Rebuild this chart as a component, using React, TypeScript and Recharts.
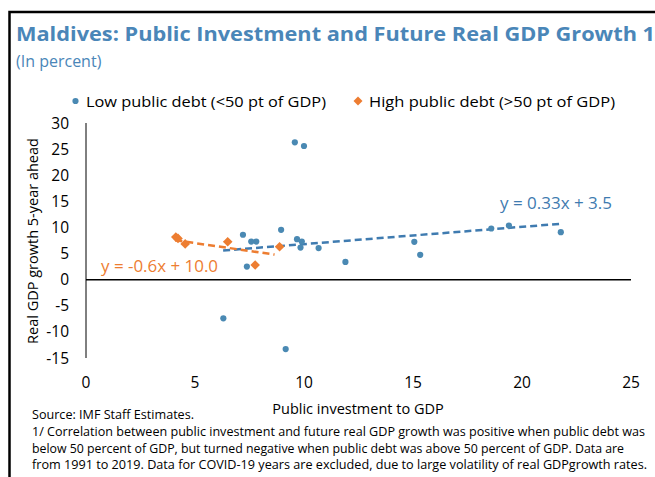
import React from "react";
import {
  ScatterChart,
  Scatter,
  XAxis,
  YAxis,
  ZAxis,
  ReferenceLine,
} from "recharts";

const lowDebtX = [9.58, 10.0, 7.2, 8.95, 7.58, 7.81, 9.68, 9.9, 9.84, 10.67, 11.9, 7.38, 6.3, 9.16, 15.06, 15.33, 18.59, 19.4, 21.78];
const lowDebtY = [26.3, 25.6, 8.6, 9.55, 7.3, 7.3, 7.75, 7.3, 6.15, 6.05, 3.4, 2.5, -7.4, -13.3, 7.25, 4.75, 9.8, 10.35, 9.1];

const highDebtX = [4.12, 4.22, 4.55, 6.5, 8.88, 7.76];
const highDebtY = [8.15, 7.9, 6.85, 7.25, 6.3, 2.8];

const lowTrendX = [6.29, 21.76];
const lowTrendY = [5.58, 10.7];
const highTrendX = [4.1, 8.65];
const highTrendY = [7.55, 4.8];

const xTicks = [0, 5, 10, 15, 20, 25];
const yTicks = [-15, -10, -5, 0, 5, 10, 15, 20, 25, 30];

const lowSeriesName = "Low public debt (<50 pt of GDP)";
const highSeriesName = "High public debt (>50 pt of GDP)";
const lowEquation = "y = 0.33x + 3.5";
const highEquation = "y = -0.6x + 10.0";

const titleText = "Maldives: Public Investment and Future Real GDP Growth 1/";
const subtitleText = "(In percent)";
const xLabel = "Public investment to GDP";
const yLabel = "Real GDP growth 5-year ahead";
const sourceText = "Source: IMF Staff Estimates.";
const noteLines = [
  "1/ Correlation between public investment and future real GDP growth was positive when public debt was",
  "below 50 percent of GDP, but turned negative when public debt was above 50 percent of GDP. Data are",
  "from 1991 to 2019. Data for COVID-19 years are excluded, due to large volatility of real GDPgrowth rates.",
];

const zip = (xs: number[], ys: number[]) => xs.map((x, i) => ({ x, y: ys[i] }));
const lowDebt = zip(lowDebtX, lowDebtY);
const highDebt = zip(highDebtX, highDebtY);
const lowTrend = zip(lowTrendX, lowTrendY);
const highTrend = zip(highTrendX, highTrendY);

const FONT = "'Open Sans', 'Noto Sans', sans-serif";
const BLUE_DOT = "#4A89B3";
const BLUE_LINE = "#3F7BB0";
const ORANGE = "#ED7D31";
const TITLE_BLUE = "#4A86B8";

const XTick = (props: any) => {
  const { x, y, payload } = props;
  return (
    <text x={x} y={y + 30} textAnchor="middle" fontFamily={FONT} fontSize={15.5} fill="#000">
      {payload.value}
    </text>
  );
};

const YTick = (props: any) => {
  const { y, payload } = props;
  return (
    <text x={69} y={y + 5.5} textAnchor="end" fontFamily={FONT} fontSize={15.5} fill="#000">
      {payload.value}
    </text>
  );
};

const noShape = () => <g />;

const DotShape = (props: any) => {
  const { cx, cy } = props;
  return <circle cx={cx} cy={cy} r={3.1} fill={BLUE_DOT} />;
};

const DiamondShape = (props: any) => {
  const { cx, cy } = props;
  const h = 4.8;
  return (
    <path
      d={`M${cx},${cy - h} L${cx + h},${cy} L${cx},${cy + h} L${cx - h},${cy} Z`}
      fill={ORANGE}
    />
  );
};

export default function App() {
  return (
    <div style={{ position: "absolute", left: 0, top: 0, width: 655, height: 477, background: "#fff", overflow: "hidden" }}>
      <ScatterChart
        width={655}
        height={477}
        margin={{ top: 123, right: 24, bottom: 89, left: 26 }}
      >
        <XAxis
          type="number"
          dataKey="x"
          domain={[0, 25]}
          ticks={xTicks}
          axisLine={false}
          tickLine={false}
          tickSize={0}
          tickMargin={0}
          height={30}
          tick={<XTick />}
          interval={0}
        />
        <YAxis
          type="number"
          dataKey="y"
          domain={[-15, 30]}
          ticks={yTicks}
          axisLine={{ stroke: "#000", strokeWidth: 1 }}
          tickLine={false}
          width={60}
          tick={<YTick />}
          interval={0}
        />
        <ZAxis range={[30, 30]} />
        <ReferenceLine y={0} stroke="#000" strokeWidth={1.5} />
        <Scatter
          name="lowTrend"
          data={lowTrend}
          line={{ stroke: BLUE_LINE, strokeWidth: 2.5, strokeDasharray: "7 4" }}
          shape={noShape}
          isAnimationActive={false}
        />
        <Scatter
          name="highTrend"
          data={highTrend}
          line={{ stroke: ORANGE, strokeWidth: 2.5, strokeDasharray: "7 4" }}
          shape={noShape}
          isAnimationActive={false}
        />
        <Scatter name={lowSeriesName} data={lowDebt} fill={BLUE_DOT} shape={<DotShape />} isAnimationActive={false} />
        <Scatter name={highSeriesName} data={highDebt} fill={ORANGE} shape={<DiamondShape />} isAnimationActive={false} />
      </ScatterChart>
      <svg
        width={655}
        height={477}
        style={{ position: "absolute", left: 0, top: 0, pointerEvents: "none" }}
      >
        <rect x={9.5} y={12} width={700} height={500} fill="none" stroke="#000" strokeWidth={2.5} />
        <text x={16} y={41} fontFamily={FONT} fontWeight={700} fontSize={20} fill={TITLE_BLUE} textLength={648} lengthAdjust="spacingAndGlyphs">
          {titleText}
        </text>
        <text x={16} y={67} fontFamily={FONT} fontSize={16} fill={TITLE_BLUE}>
          {subtitleText}
        </text>
        <circle cx={75.5} cy={101} r={3.1} fill={BLUE_DOT} />
        <text x={86} y={106.5} fontFamily={FONT} fontSize={15} fill="#000" textLength={240} lengthAdjust="spacingAndGlyphs">
          {lowSeriesName}
        </text>
        <path d="M358,96.5 L362.5,101 L358,105.5 L353.5,101 Z" fill={ORANGE} />
        <text x={369} y={106.5} fontFamily={FONT} fontSize={15} fill="#000" textLength={246} lengthAdjust="spacingAndGlyphs">
          {highSeriesName}
        </text>
        <text x={500} y={209} fontFamily={FONT} fontSize={16} fill={BLUE_LINE} textLength={112} lengthAdjust="spacingAndGlyphs">
          {lowEquation}
        </text>
        <text x={101} y={272} fontFamily={FONT} fontSize={16} fill={ORANGE} textLength={117} lengthAdjust="spacingAndGlyphs">
          {highEquation}
        </text>
        <text
          x={0}
          y={0}
          transform="translate(38,241) rotate(-90)"
          textAnchor="middle"
          fontFamily={FONT}
          fontSize={14.5}
          fill="#000"
        >
          {yLabel}
        </text>
        <text x={358} y={414} textAnchor="middle" fontFamily={FONT} fontSize={14.5} fill="#000">
          {xLabel}
        </text>
        <text x={32} y={419} fontFamily={FONT} fontSize={12.5} fill="#000" textLength={162} lengthAdjust="spacingAndGlyphs">
          {sourceText}
        </text>
        <text x={32} y={436} fontFamily={FONT} fontSize={12.5} fill="#000" textLength={613} lengthAdjust="spacingAndGlyphs">
          {noteLines[0]}
        </text>
        <text x={32} y={452.5} fontFamily={FONT} fontSize={12.5} fill="#000" textLength={592} lengthAdjust="spacingAndGlyphs">
          {noteLines[1]}
        </text>
        <text x={32} y={469} fontFamily={FONT} fontSize={12.5} fill="#000" textLength={615} lengthAdjust="spacingAndGlyphs">
          {noteLines[2]}
        </text>
      </svg>
    </div>
  );
}
